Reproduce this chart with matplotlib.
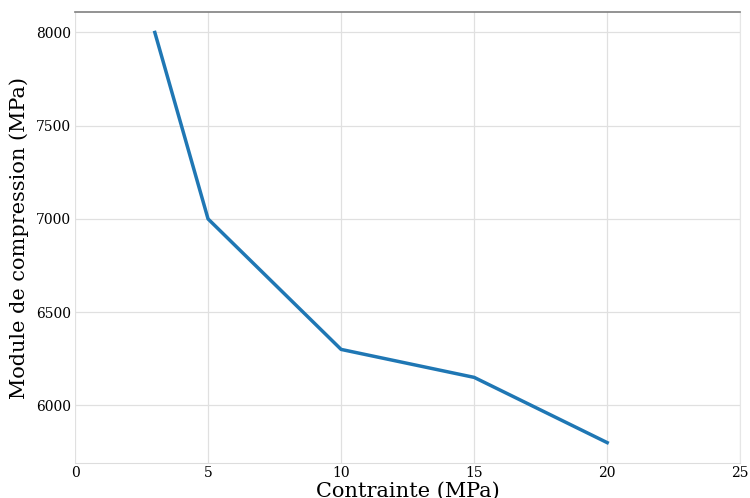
import matplotlib
matplotlib.use("Agg")
import matplotlib.pyplot as plt

# Contrainte (MPa) vs module de compression (MPa)
contrainte = [3, 5, 10, 15, 20]
module = [8000, 7000, 6300, 6150, 5800]
x_ticks = [0, 5, 10, 15, 20, 25]
y_ticks = [6000, 6500, 7000, 7500, 8000]

plt.rcParams['font.family'] = 'DejaVu Serif'

fig = plt.figure(figsize=(7.5, 4.98), dpi=100)
ax = fig.add_axes([0.1, 0.07, 0.887, 0.906])

ax.plot(contrainte, module, color='#1f77b4', linewidth=2.5)

ax.set_xlim(0, 25)
ax.set_xticks(x_ticks)
ax.set_yticks(y_ticks)
ax.grid(True, color='#e0e0e0', linewidth=0.9)
ax.set_axisbelow(True)
ax.tick_params(length=0, labelsize=10)
ax.tick_params(axis='y', pad=3)
ax.tick_params(axis='x', pad=2)

ax.spines['left'].set_visible(False)
ax.spines['top'].set_color('#808080')
ax.spines['top'].set_linewidth(1.2)
ax.spines['bottom'].set_color('#dddddd')
ax.spines['right'].set_color('#e6e6e6')

ax.set_xlabel("Contrainte (MPa)", fontsize=15, labelpad=1)
ax.set_ylabel("Module de compression (MPa)", fontsize=15, labelpad=5)

fig.savefig("out.png", dpi=100)
